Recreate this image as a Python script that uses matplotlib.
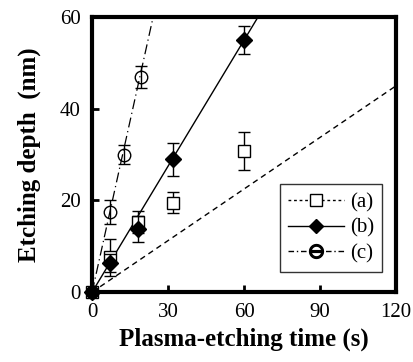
import numpy as np
import matplotlib
matplotlib.use('Agg')
import matplotlib.pyplot as plt

plt.rcParams['font.family'] = ['Liberation Serif', 'DejaVu Serif']

# (a) squares
time_a = [0, 7, 18, 32, 60]
depth_a = [0, 7.6, 15.3, 19.5, 30.8]
err_a = [0, 4.0, 2.4, 2.3, 4.2]
slope_a = 0.375

# (b) diamonds
time_b = [0, 7, 18, 32, 60]
depth_b = [0, 6.3, 13.8, 29.0, 55.0]
err_b = [0, 2.0, 2.8, 3.6, 3.0]
slope_b = 0.916

# (c) circles
time_c = [0, 7, 12.5, 19.5]
depth_c = [0, 17.4, 30.0, 47.0]
err_c = [0, 2.6, 2.0, 2.4]
slope_c = 2.49

labels = ['(a)', '(b)', '(c)']

fig = plt.figure(figsize=(4.13, 3.62), dpi=100)
ax = fig.add_axes([0.223, 0.193, 0.736, 0.760])

xfit = np.linspace(0, 120, 200)
ax.plot(xfit, slope_a * xfit, color='black', lw=1.0, ls=(0, (4, 3)))
ax.plot(xfit, slope_b * xfit, color='black', lw=1.0, ls='-')
ax.plot(xfit, slope_c * xfit, color='black', lw=0.9, ls=(0, (8, 3, 1, 3)))

ax.errorbar(time_a, depth_a, yerr=err_a, fmt='s', ms=9, mfc='white', mec='black',
            mew=1.0, ecolor='black', elinewidth=1.0, capsize=4, clip_on=False, zorder=3)
ax.errorbar(time_b, depth_b, yerr=err_b, fmt='D', ms=8, mfc='black', mec='black',
            ecolor='black', elinewidth=1.0, capsize=4, clip_on=False, zorder=4)
ax.errorbar(time_c, depth_c, yerr=err_c, fmt='o', ms=9, mfc='none', mec='black',
            mew=1.0, ecolor='black', elinewidth=1.0, capsize=4, clip_on=False, zorder=3)

# legend handles
h_a, = ax.plot([], [], color='black', lw=1.0, ls=(0, (2, 2)), marker='s', ms=8,
               mfc='white', mec='black')
h_b, = ax.plot([], [], color='black', lw=1.0, ls='-', marker='D', ms=7, mfc='black')
h_c, = ax.plot([], [], color='black', lw=1.0, ls=(0, (4, 2, 1, 2)), marker='$\\ominus$',
               ms=10, mfc='black', mec='black')
leg = ax.legend([h_a, h_b, h_c], labels, loc='lower right',
                bbox_to_anchor=(0.954, 0.073), borderaxespad=0, frameon=True,
                fancybox=False, edgecolor='black', fontsize=15, handlelength=2.7,
                handletextpad=0.25, borderpad=0.4, labelspacing=0.3)
leg.get_frame().set_linewidth(1.0)

ax.set_xlim(0, 120)
ax.set_ylim(0, 60)
ax.set_xticks([0, 30, 60, 90, 120])
ax.set_yticks([0, 20, 40, 60])
ax.tick_params(direction='in', length=5, width=2, labelsize=15, pad=8)
for s in ax.spines.values():
    s.set_linewidth(3)

ax.set_xlabel('Plasma-etching time (s)', fontsize=18, fontweight='bold', labelpad=4)
ax.set_ylabel('Etching depth  (nm)', fontsize=18, fontweight='bold', labelpad=14)

fig.savefig('out.png', dpi=100)
